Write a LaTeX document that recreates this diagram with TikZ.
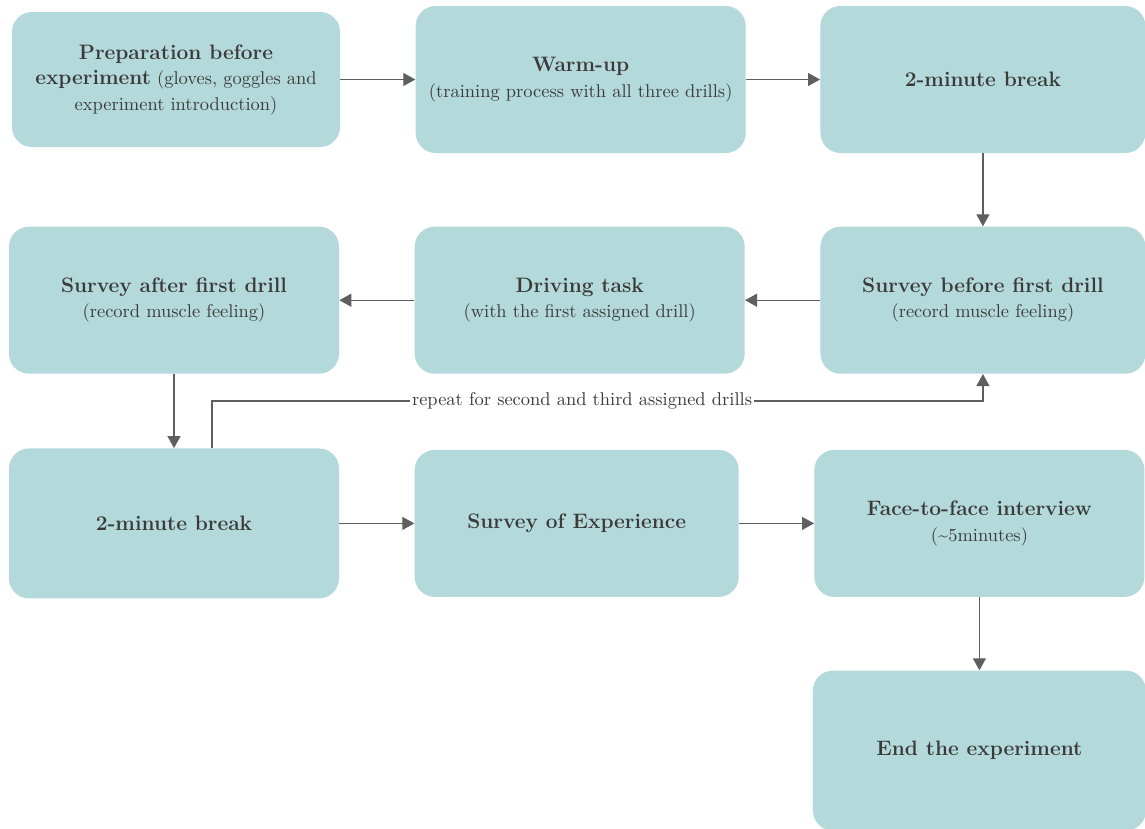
\documentclass[tikz,border=0pt]{standalone}
\usepackage{fontspec}
\usetikzlibrary{positioning,arrows.meta,calc}

\definecolor{boxfill}{RGB}{180,217,218}
\definecolor{textgray}{RGB}{58,58,58}
\definecolor{linegray}{RGB}{95,95,95}

\newcommand{\stitle}[1]{{\fontsize{11.9}{15}\selectfont\bfseries #1}}

\begin{document}
\begin{tikzpicture}[
  stage/.style={fill=boxfill, rounded corners=0.4cm, text=textgray,
    minimum width=6.6cm, minimum height=2.94cm, align=center,
    font=\fontsize{10.5}{14.5}\selectfont, inner sep=2pt},
  flow/.style={draw=linegray, line width=0.7pt, -{Triangle[length=2.4mm,width=2.6mm]}},
  node distance=1.46cm and 1.5cm
]

  \useasboundingbox (0,0) rectangle (22.9,-16.56);

  % first row
  \node[stage, minimum width=6.56cm, minimum height=2.7cm] (prep) at (3.52,-1.59) {\stitle{Preparation before}\\ \stitle{experiment} (gloves, goggles and\\ experiment introduction)};
  \node[stage] (warm) [right=of prep] {\stitle{Warm-up}\\ (training process with all three drills)};
  \node[stage, minimum width=6.5cm] (brk1) [right=1.48cm of warm] {\stitle{2-minute break}};

  % second row, right to left
  \node[stage, minimum width=6.5cm] (svbefore) [below=of brk1] {\stitle{Survey before first drill}\\ (record muscle feeling)};
  \node[stage] (drive) [left=of svbefore] {\stitle{Driving task}\\ (with the first assigned drill)};
  \node[stage] (svafter) [left=of drive] {\stitle{Survey after first drill}\\ (record muscle feeling)};

  % third row
  \node[stage, minimum height=3cm] (brk2) [below=1.48cm of svafter] {\stitle{2-minute break}};
  \node[stage, minimum width=6.48cm] (svexp) [right=of brk2] {\stitle{Survey of Experience}};
  \node[stage] (face) [right=of svexp] {\stitle{Face-to-face interview}\\ (\textasciitilde5minutes)};
  \node[stage, minimum width=6.66cm, minimum height=3.2cm] (finish) [below=of face] {\stitle{End the experiment}};

  \draw[flow] (prep) -- (warm);
  \draw[flow] (warm) -- (brk1);
  \draw[flow] (brk1) -- (svbefore);
  \draw[flow] (svbefore) -- (drive);
  \draw[flow] (drive) -- (svafter);
  \draw[flow] (svafter) -- (brk2);
  \draw[flow] (brk2) -- (svexp);
  \draw[flow] (svexp) -- (face);
  \draw[flow] (face) -- (finish);

  % loop back
  \draw[flow] ([xshift=0.76cm]brk2.north) -- ++(0,0.94) -| node[pos=0.24, fill=white, inner sep=1pt, text=textgray, font=\fontsize{10.5}{13}\selectfont] {repeat for second and third assigned drills} (svbefore.south);

\end{tikzpicture}
\end{document}
